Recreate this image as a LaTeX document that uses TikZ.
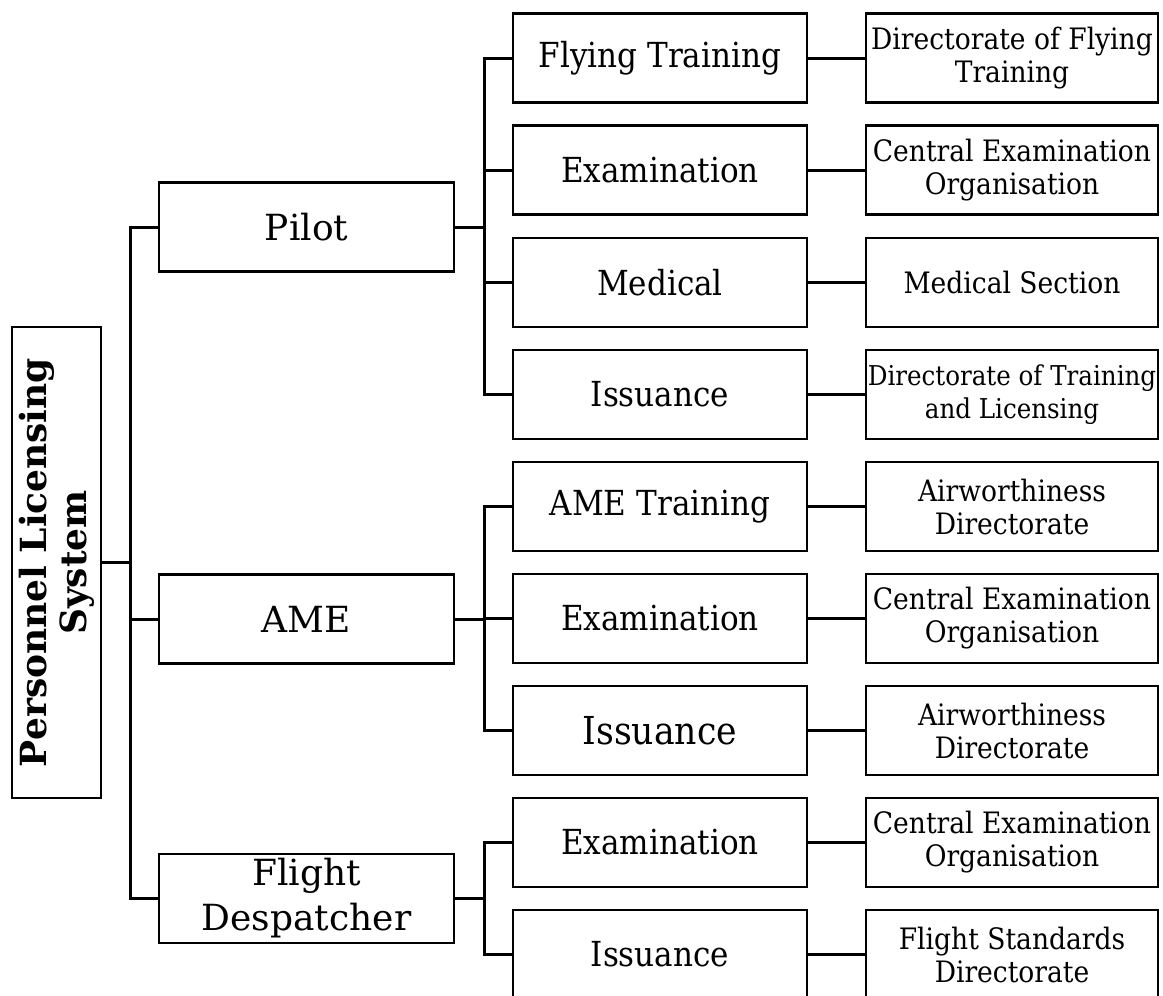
\documentclass[tikz,border=0pt]{standalone}
\usepackage{fontspec}
\setmainfont{DejaVu Serif}
\newfontfamily\condfont{DejaVu Serif Condensed}
\begin{document}
\begin{tikzpicture}[x=1pt,y=-1pt]

      \tikzset{box/.style={draw, line width=2.4pt, align=center, inner sep=0pt},
               rootbox/.style={box, minimum width=471pt, minimum height=89pt, rotate=90,
                   font=\bfseries\fontsize{36}{40}\selectfont},
               catbox/.style={box, minimum width=295pt, minimum height=89pt,
                   font=\fontsize{36}{45}\selectfont},
               stagebox/.style={box, minimum width=294pt, minimum height=89pt,
                   font=\condfont\fontsize{34.5}{40}\selectfont},
               officebox/.style={box, minimum width=292pt, minimum height=89pt,
                   font=\condfont\fontsize{29.5}{33}\selectfont},
               link/.style={line width=3pt}}
      \useasboundingbox (0,0) rectangle (1163,996);
      \clip (0,0) rectangle (1163,996);
%% Boxes
      	\node[rootbox] (pls) at (56.5,562.5) {Personnel Licensing\\System};
      	\node[catbox] (pilot) at (306.5,227) {Pilot};
      	\node[catbox] (ame) at (306.5,619) {AME};
      	\node[catbox] (fd) at (306.5,898.5) {Flight\\Despatcher};
      	\node[stagebox] (ft) at (660,58) {Flying Training};
      	\node[stagebox] (pex) at (660,170) {Examination};
      	\node[stagebox] (med) at (660,282.5) {Medical};
      	\node[stagebox] (piss) at (660,394.5) {Issuance};
      	\node[stagebox] (amet) at (660,506.5) {AME Training};
      	\node[stagebox] (aex) at (660,618.5) {Examination};
      	\node[stagebox, font=\condfont\fontsize{38.5}{44}\selectfont] (aiss) at (660,730.5) {Issuance};
      	\node[stagebox] (fex) at (660,842.5) {Examination};
      	\node[stagebox] (fiss) at (660,954.5) {Issuance};
      	\node[officebox] (dft) at (1012,58) {Directorate of Flying\\Training};
      	\node[officebox] (ceo1) at (1012,170) {Central Examination\\Organisation};
      	\node[officebox] (ms) at (1012,282.5) {Medical Section};
      	\node[officebox, font=\condfont\fontsize{27.3}{33}\selectfont] (dtl) at (1012,394.5) {Directorate of Training\\and Licensing};
      	\node[officebox] (aw1) at (1012,506.5) {Airworthiness\\Directorate};
      	\node[officebox] (ceo2) at (1012,618.5) {Central Examination\\Organisation};
      	\node[officebox] (aw2) at (1012,730.5) {Airworthiness\\Directorate};
      	\node[officebox] (ceo3) at (1012,842.5) {Central Examination\\Organisation};
      	\node[officebox] (fsd) at (1012,954.5) {Flight Standards\\Directorate};
      	\coordinate (bus1) at (130.5,0);
      	\coordinate (bus2) at (484,0);
%Edges
		\draw[link] (pilot.west) -| (bus1 |- fd.west) -- (fd.west);
		\draw[link] (pls.south) -- (pls.south -| bus1);
		\draw[link] (ame.west) -- (ame.west -| bus1);
		\draw[link] (ft.west) -| (bus2 |- piss.west) -- (piss.west);
		\draw[link] (pilot.east) -- (pilot.east -| bus2);
		\draw[link] (pex.west) -- (pex.west -| bus2);
		\draw[link] (med.west) -- (med.west -| bus2);
		\draw[link] (amet.west) -| (bus2 |- aiss.west) -- (aiss.west);
		\draw[link] (ame.east) -- (ame.east -| bus2);
		\draw[link] (aex.west) -- (aex.west -| bus2);
		\draw[link] (fex.west) -| (bus2 |- fiss.west) -- (fiss.west);
		\draw[link] (fd.east) -- (fd.east -| bus2);
		\path[link] (ft) edge (dft);
		\path[link] (pex) edge (ceo1);
		\path[link] (med) edge (ms);
		\path[link] (piss) edge (dtl);
		\path[link] (amet) edge (aw1);
		\path[link] (aex) edge (ceo2);
		\path[link] (aiss) edge (aw2);
		\path[link] (fex) edge (ceo3);
		\path[link] (fiss) edge (fsd);

	\end{tikzpicture}
\end{document}
